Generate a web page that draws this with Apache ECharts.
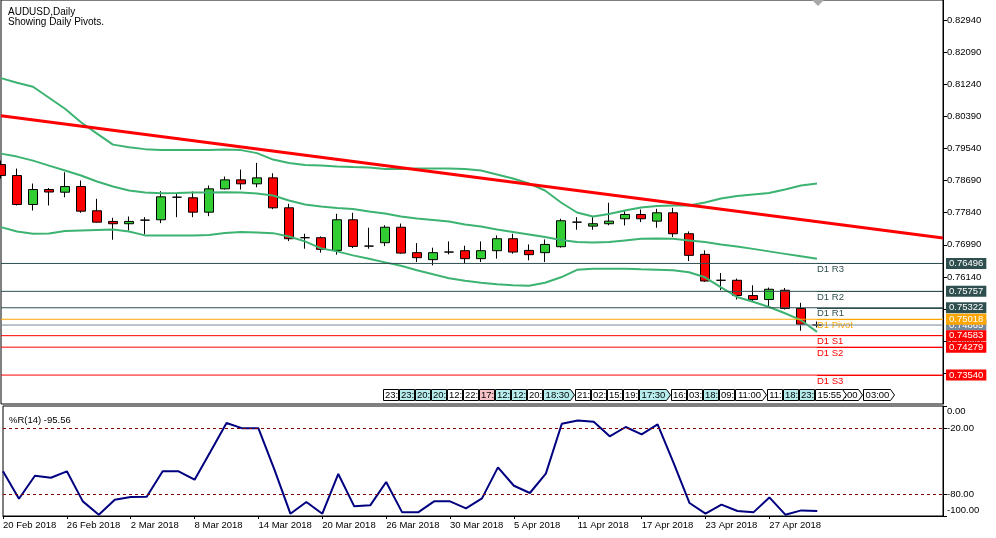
<!DOCTYPE html>
<html><head><meta charset="utf-8">
<script src="https://cdn.jsdelivr.net/npm/echarts@6/dist/echarts.min.js"></script>
<style>html,body{margin:0;padding:0;background:#fff}#c{width:996px;height:538px}</style>
</head><body><div id="c"></div>
<script>
// ---------- data ----------
const dateLabels = ['20 Feb 2018','26 Feb 2018','2 Mar 2018','8 Mar 2018','14 Mar 2018','20 Mar 2018','26 Mar 2018','30 Mar 2018','5 Apr 2018','11 Apr 2018','17 Apr 2018','23 Apr 2018','27 Apr 2018'];
const dateLabelBars = [0,4,8,12,16,20,24,28,32,36,40,44,48];

const open  = [0.79114,0.78824,0.78058,0.78454,0.78383,0.78533,0.77891,0.77609,0.77548,0.77643,0.77653,0.78251,0.78235,0.77854,0.78472,0.78710,0.78605,0.78763,0.77970,0.77178,0.77178,0.76842,0.77653,0.76956,0.77046,0.77455,0.76782,0.76597,0.76798,0.76834,0.76623,0.76834,0.77151,0.76842,0.76782,0.76940,0.77590,0.77485,0.77548,0.77680,0.77793,0.77617,0.77838,0.77283,0.76737,0.76050,0.76050,0.75645,0.75540,0.75786,0.75302,0.74865];
const high  = [0.79220,0.79009,0.78612,0.78494,0.78911,0.78692,0.78208,0.77706,0.77740,0.77722,0.78409,0.78340,0.78401,0.78560,0.78798,0.78982,0.79159,0.78885,0.78076,0.77283,0.77212,0.77812,0.77838,0.77442,0.77508,0.77553,0.77035,0.76914,0.77080,0.76966,0.77080,0.77239,0.77283,0.77000,0.77133,0.77680,0.77722,0.77722,0.78103,0.77899,0.77925,0.77944,0.77970,0.77344,0.76842,0.76243,0.76095,0.75918,0.75857,0.75846,0.75453,0.74958];
const low   = [0.78745,0.78031,0.77899,0.78031,0.78250,0.77838,0.77580,0.77125,0.77371,0.77265,0.77564,0.77722,0.77722,0.77749,0.78454,0.78454,0.78515,0.77934,0.77088,0.76887,0.76782,0.76729,0.76903,0.76887,0.76956,0.76755,0.76533,0.76446,0.76737,0.76491,0.76533,0.76623,0.76755,0.76578,0.76533,0.76915,0.77389,0.77389,0.77508,0.77503,0.77590,0.77442,0.77194,0.76560,0.76010,0.75786,0.75540,0.75476,0.75328,0.75276,0.74714,0.74800];
const close = [0.78824,0.78058,0.78454,0.78388,0.78533,0.77881,0.77590,0.77548,0.77609,0.77643,0.78261,0.78251,0.77854,0.78472,0.78710,0.78605,0.78763,0.77970,0.77151,0.77178,0.76869,0.77653,0.76948,0.76956,0.77455,0.76771,0.76649,0.76782,0.76798,0.76623,0.76834,0.77151,0.76798,0.76729,0.77000,0.77627,0.77590,0.77548,0.77617,0.77793,0.77680,0.77838,0.77283,0.76711,0.76031,0.76050,0.75646,0.75540,0.75812,0.75302,0.74887,0.74865];

const bandUpper  = [0.81405,0.81281,0.81175,0.80885,0.80594,0.80237,0.79933,0.79643,0.79572,0.79524,0.79503,0.79503,0.79503,0.79503,0.79511,0.79498,0.79418,0.79247,0.79154,0.79101,0.79088,0.79062,0.79048,0.79035,0.78996,0.78996,0.79009,0.79009,0.79009,0.78996,0.78956,0.78850,0.78745,0.78612,0.78428,0.78111,0.77846,0.77741,0.77807,0.77899,0.77978,0.78018,0.78031,0.78031,0.78111,0.78216,0.78282,0.78322,0.78361,0.78454,0.78560,0.78612];
const bandMiddle = [0.79405,0.79326,0.79220,0.79088,0.78956,0.78824,0.78665,0.78533,0.78428,0.78375,0.78356,0.78361,0.78375,0.78375,0.78383,0.78375,0.78348,0.78295,0.78163,0.78058,0.78005,0.77965,0.77939,0.77873,0.77820,0.77741,0.77688,0.77648,0.77608,0.77529,0.77476,0.77397,0.77331,0.77265,0.77194,0.77120,0.77062,0.77054,0.77062,0.77107,0.77151,0.77159,0.77151,0.77107,0.77062,0.77001,0.76948,0.76882,0.76816,0.76750,0.76684,0.76623];
const bandLower  = [0.77458,0.77344,0.77284,0.77291,0.77358,0.77371,0.77384,0.77397,0.77344,0.77239,0.77239,0.77239,0.77239,0.77252,0.77305,0.77326,0.77318,0.77299,0.77212,0.77080,0.76895,0.76816,0.76710,0.76618,0.76525,0.76433,0.76314,0.76208,0.76103,0.76037,0.75984,0.75944,0.75918,0.75904,0.75984,0.76129,0.76327,0.76354,0.76359,0.76354,0.76340,0.76327,0.76314,0.76261,0.76129,0.75865,0.75609,0.75482,0.75344,0.75178,0.74993,0.74684];

const wpr = [-59.4,-84.3,-63.4,-65.2,-59.4,-86.7,-98.8,-85.2,-82.7,-82.5,-59.4,-59.4,-67.0,-41.3,-15.5,-20.3,-20.3,-57.9,-97.9,-87.3,-97.9,-61.8,-91.2,-90.3,-69.1,-96.7,-96.7,-86.7,-86.7,-93.0,-84.0,-55.8,-72.5,-79.1,-61.5,-16.1,-13.1,-14.3,-27.6,-19.1,-25.8,-16.7,-51.8,-88.2,-97.9,-89.7,-95.5,-96.7,-83.1,-98.8,-94.9,-95.56];
const wprLevels = [-20, -80];
const wprTicks = [0, -20, -80, -100];

const priceTicks = [0.8294,0.8209,0.8124,0.8039,0.7954,0.7869,0.7784,0.7699,0.7614,0.7529,0.7444,0.7359];

const pivotNames  = ['D1 R3','D1 R2','D1 R1','D1 Pivot','D1 S1','D1 S2','D1 S3'];
const pivotValues = [0.76496,0.75757,0.75322,0.75018,0.74583,0.74279,0.73540];
const bidPrice = 0.74865;

const trendLine = [[0, 0.80409], [58.875, 0.77173]];

// [bar, text, fill, arrow, align]
const timeTags = [
  [24,'23:','w'],[25,'23:','c'],[26,'20:','c'],[27,'20:','c'],[28,'12:','w'],[29,'22:','w'],[30,'17:','p'],
  [31,'12:','c'],[32,'12:','c'],[33,'20:','w'],[34,'18:30','c',1],[36,'21:','w'],[37,'02:','w'],[38,'15:','w'],
  [39,'19:','w'],[40,'17:30','c',1],[42,'16:','w'],[43,'03:','w'],[44,'18:','c'],[45,'09:','w'],[46,'11:00','w',1],
  [48,'11:','w'],[49,'18:','c'],[50,'23:','c'],[52,':00','w',1,'right'],[51,'15:55','w',1],[54,'03:00','w',1]
];

// ---------- layout / style ----------
const xMin = 0, xMax = 58.875;
const yMin = 0.727736, yMax = 0.834737;
const FONT = 'Liberation Sans';
const tagFill = { w: '#FFFFFF', c: '#B6ECEC', p: '#F6C2C8' };
const colR = '#2F4F4F', colP = '#FFA500', colS = '#FF0000', colBid = '#778899';
const lastBar = close.length - 1;

const candleData = open.map((o, i) => [i, o, close[i], low[i], high[i]]);
const toXY = arr => arr.map((v, i) => [i, v]);

function pivotColor(name) {
  if (name.indexOf('R') === 3) return colR;
  if (name.indexOf('S') === 3) return colS;
  return colP;
}

function levelSeries(v, c, name) {
  const s = {
    type: 'line', xAxisIndex: 0, yAxisIndex: 0, z: 5, silent: true,
    data: [[xMin, v], [xMax, v]], showSymbol: false, symbol: 'none',
    lineStyle: { color: c, width: 1 }, itemStyle: { color: c },
    endLabel: { show: true, distance: 3, formatter: v.toFixed(5), color: '#fff', backgroundColor: c,
                padding: [1, 3, 0, 3], fontSize: 9.5, lineHeight: 10, fontFamily: FONT }
  };
  if (name) {
    s.markLine = {
      silent: true, symbol: ['none', 'none'], animation: false,
      lineStyle: { color: c, width: 1, type: 'solid' },
      label: { show: true, position: 'insideStartBottom', distance: [0, 1], formatter: name, color: c,
               fontSize: 9.5, fontFamily: FONT },
      data: [[{ coord: [lastBar, v] }, { coord: [xMax, v] }]]
    };
  }
  return s;
}
const levelList = [];
[0, 1, 2].forEach(k => levelList.push(levelSeries(pivotValues[k], pivotColor(pivotNames[k]), pivotNames[k])));
levelList.push(levelSeries(bidPrice, colBid, null));
[3, 4, 5, 6].forEach(k => levelList.push(levelSeries(pivotValues[k], pivotColor(pivotNames[k]), pivotNames[k])));

const chart = echarts.init(document.getElementById('c'), null, { renderer: 'canvas' });
chart.setOption({
  animation: false,
  backgroundColor: '#fff',
  textStyle: { fontFamily: FONT },
  title: [
    { text: 'AUDUSD,Daily\nShowing Daily Pivots.', left: 3, top: 2,
      textStyle: { fontSize: 10, fontWeight: 'normal', color: '#000', lineHeight: 10, fontFamily: FONT } },
    { text: '%R(14) ' + wpr[wpr.length - 1].toFixed(2), left: 4, top: 410,
      textStyle: { fontSize: 9.5, fontWeight: 'normal', color: '#000', fontFamily: FONT } }
  ],
  grid: [
    { left: 1, top: -1, width: 942, height: 405, show: true, borderColor: '#000', borderWidth: 1 },
    { left: 1, top: 406, width: 942, height: 110, show: true, borderColor: '#000', borderWidth: 1 }
  ],
  xAxis: [
    { type: 'value', gridIndex: 0, min: xMin, max: xMax, show: false, axisLine: { onZero: false } },
    { type: 'value', gridIndex: 1, min: xMin, max: xMax, position: 'bottom',
      splitLine: { show: false },
      axisLine: { show: true, onZero: false, lineStyle: { color: '#000', width: 1 } },
      axisTick: { show: true, inside: false, customValues: dateLabelBars, length: 3, lineStyle: { color: '#000' } },
      axisLabel: { customValues: dateLabelBars, align: 'left', margin: 4, fontSize: 9.5, color: '#000',
                   formatter: v => dateLabels[dateLabelBars.indexOf(Math.round(v))] || '' } }
  ],
  yAxis: [
    { type: 'value', gridIndex: 0, position: 'right', min: yMin, max: yMax,
      splitLine: { show: false },
      axisLine: { show: true, onZero: false, lineStyle: { color: '#000' } },
      axisTick: { show: true, inside: false, customValues: priceTicks, length: 4, lineStyle: { color: '#000' } },
      axisLabel: { customValues: priceTicks, margin: 4, fontSize: 9.5, color: '#000', formatter: v => v.toFixed(5) } },
    { type: 'value', gridIndex: 1, position: 'right', min: -100, max: 0,
      splitLine: { show: false },
      axisLine: { show: true, onZero: false, lineStyle: { color: '#000' } },
      axisTick: { show: true, inside: false, customValues: wprTicks, length: 4, lineStyle: { color: '#000' } },
      axisLabel: { customValues: wprTicks, margin: 4, fontSize: 9.5, color: '#000',
        formatter: v => v === 0 ? '{t|0.00}' : (v === -100 ? '{b|-100.00}' : v.toFixed(2)),
        rich: { t: { padding: [11, 0, 0, 0], fontSize: 9.5, color: '#000' },
                b: { padding: [0, 0, 12, 0], fontSize: 9.5, color: '#000' } } } }
  ],
  series: [
    { type: 'candlestick', xAxisIndex: 0, yAxisIndex: 0, data: candleData,
      encode: { x: 0, y: [1, 2, 3, 4] }, barWidth: 9, z: 2,
      itemStyle: { color: '#32CD32', color0: '#FF0000', borderColor: '#000', borderColor0: '#000',
                   borderColorDoji: '#000', borderWidth: 1 } },
    { type: 'line', xAxisIndex: 0, yAxisIndex: 0, data: toXY(bandUpper), showSymbol: false, z: 3,
      lineStyle: { color: '#3CB371', width: 2 }, itemStyle: { color: '#3CB371' } },
    { type: 'line', xAxisIndex: 0, yAxisIndex: 0, data: toXY(bandMiddle), showSymbol: false, z: 3,
      lineStyle: { color: '#3CB371', width: 2 }, itemStyle: { color: '#3CB371' } },
    { type: 'line', xAxisIndex: 0, yAxisIndex: 0, data: toXY(bandLower), showSymbol: false, z: 3,
      lineStyle: { color: '#3CB371', width: 2 }, itemStyle: { color: '#3CB371' } },
    { type: 'line', xAxisIndex: 0, yAxisIndex: 0, data: trendLine, showSymbol: false, z: 4,
      lineStyle: { color: '#FF0000', width: 3 }, itemStyle: { color: '#FF0000' } }
  ].concat(levelList).concat([
    { type: 'custom', xAxisIndex: 0, yAxisIndex: 0, clip: false, z: 6,
      data: timeTags.map(t => [t[0], yMin]), encode: { x: 0, y: 1 },
      renderItem: function (params, api) {
        const t = timeTags[params.dataIndex];
        const cs = params.coordSys;
        const x0 = Math.round(api.coord([api.value(0), api.value(1)])[0]) - 1.5;
        const y0 = cs.y + cs.height - 14.5;
        const h = 11, w = t[3] ? 27 : 15;
        const st = { fill: tagFill[t[2]], stroke: '#000', lineWidth: 1 };
        const shape = t[3]
          ? { type: 'polygon', shape: { points: [[x0, y0], [x0 + w, y0], [x0 + w + 4, y0 + h / 2], [x0 + w, y0 + h], [x0, y0 + h]] }, style: st }
          : { type: 'rect', shape: { x: x0, y: y0, width: w, height: h }, style: st };
        const right = t[4] === 'right';
        const txt = { type: 'text', style: { text: t[1], x: right ? x0 + w - 1 : x0 + w / 2 + 0.5, y: y0 + h / 2 + 0.5,
          align: right ? 'right' : 'center', verticalAlign: 'middle', font: '9.5px "Liberation Sans"', fill: '#000' } };
        return { type: 'group', children: [shape, txt] };
      } },
    { type: 'line', xAxisIndex: 1, yAxisIndex: 1, data: toXY(wpr), showSymbol: false, z: 3,
      lineStyle: { color: '#000080', width: 2 }, itemStyle: { color: '#000080' },
      markLine: { silent: true, symbol: ['none', 'none'], label: { show: false },
                  lineStyle: { color: '#800000', type: [3, 3], width: 1 },
                  data: wprLevels.map(v => [{ coord: [xMin, v] }, { coord: [xMax, v] }]) } }
  ]),
  graphic: [
    { type: 'polygon', shape: { points: [[812, 0], [824, 0], [818, 6]] }, style: { fill: '#A8A8A8' }, silent: true }
  ]
});
</script></body></html>
